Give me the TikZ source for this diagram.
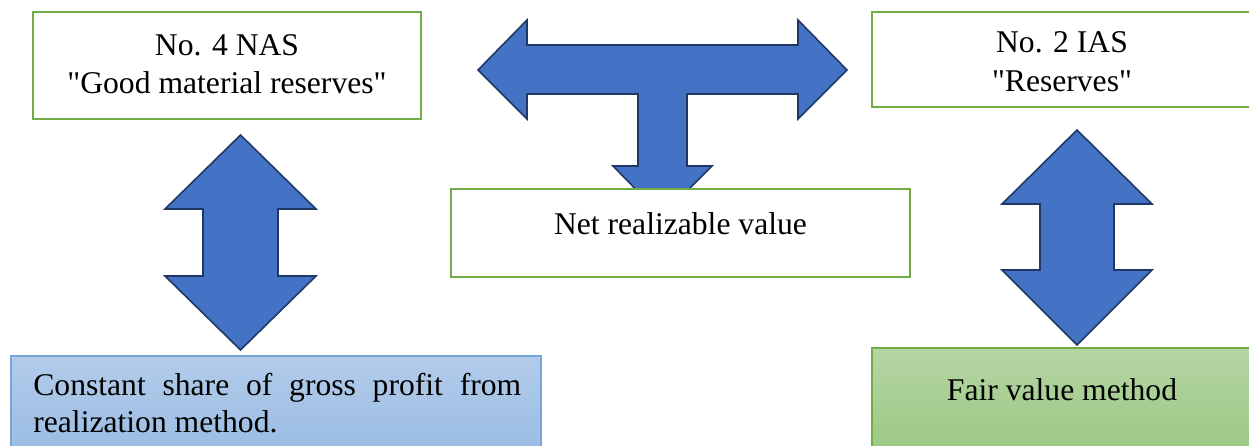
\documentclass[tikz,border=0pt]{standalone}
\usepackage{fontspec}
\setmainfont{Liberation Serif}[Ligatures=TeXOff]
\definecolor{arrowfill}{HTML}{4472C4}
\definecolor{arrowline}{HTML}{203864}
\definecolor{boxgreen}{HTML}{70AD47}
\definecolor{bluetop}{HTML}{B2CCEA}
\definecolor{bluebot}{HTML}{9BBCE3}
\definecolor{blueline}{HTML}{75A5DA}
\definecolor{greentop}{HTML}{B5D6A4}
\definecolor{greenbot}{HTML}{9CC883}
\tikzset{
  blockarrow/.style={fill=arrowfill, draw=arrowline, line width=0.9pt, line join=miter},
  greenbox/.style={draw=boxgreen, line width=1.2pt, fill=white},
  bluebox/.style={draw=blueline, line width=0.8pt, top color=bluetop, bottom color=bluebot},
  greenfill/.style={draw=boxgreen, line width=0.8pt, top color=greentop, bottom color=greenbot},
  txt/.style={inner sep=0pt, anchor=base, font=\fontsize{18}{21.6}\selectfont}
}
\begin{document}
\begin{tikzpicture}[x=0.02cm,y=-0.02cm]
\useasboundingbox (0,0) rectangle (1249,446);
\clip (0,0) rectangle (1249,446);
% T arrow
\draw[blockarrow] (478,70) -- (527,20) -- (527,45) -- (798,45) -- (798,20) -- (847,70)
  -- (798,119) -- (798,94) -- (687,94) -- (687,166) -- (712,166) -- (662,216)
  -- (613,166) -- (638,166) -- (638,94) -- (527,94) -- (527,119) -- cycle;
% left vertical arrow
\draw[blockarrow] (240.5,135) -- (316,209) -- (278,209) -- (278,276) -- (316,276)
  -- (240.5,350) -- (165,276) -- (203,276) -- (203,209) -- (165,209) -- cycle;
% right vertical arrow
\draw[blockarrow] (1077,130) -- (1152,204) -- (1114,204) -- (1114,270) -- (1152,270)
  -- (1077,345) -- (1002,270) -- (1040,270) -- (1040,204) -- (1002,204) -- cycle;
% boxes
\draw[greenbox] (33,12) rectangle (421,119);
\draw[greenbox] (872,12) rectangle (1256,107);
\draw[greenbox] (451,189) rectangle (910,277);
\draw[bluebox] (11,356) rectangle (541,452);
\draw[greenfill] (872,348) rectangle (1256,452);
% texts
\node[txt] (nas1) at (227,56) {No. 4 NAS};
\node[txt] (nas2) at (227,94) {"Good material reserves"};
\node[txt] (ias1) at (1062,53) {No. 2 IAS};
\node[txt] (ias2) at (1062,91.5) {"Reserves"};
\node[txt] (nrv) at (680.5,234.5) {Net realizable value};
\node[txt] (fvm) at (1062,400) {Fair value method};
\node[txt, anchor=base west] (cs1) at (33,396) {\hbox to 9.76cm{Constant share of gross profit from}};
\node[txt, anchor=base west] (cs2) at (33,432) {realization method.};
\end{tikzpicture}
\end{document}
